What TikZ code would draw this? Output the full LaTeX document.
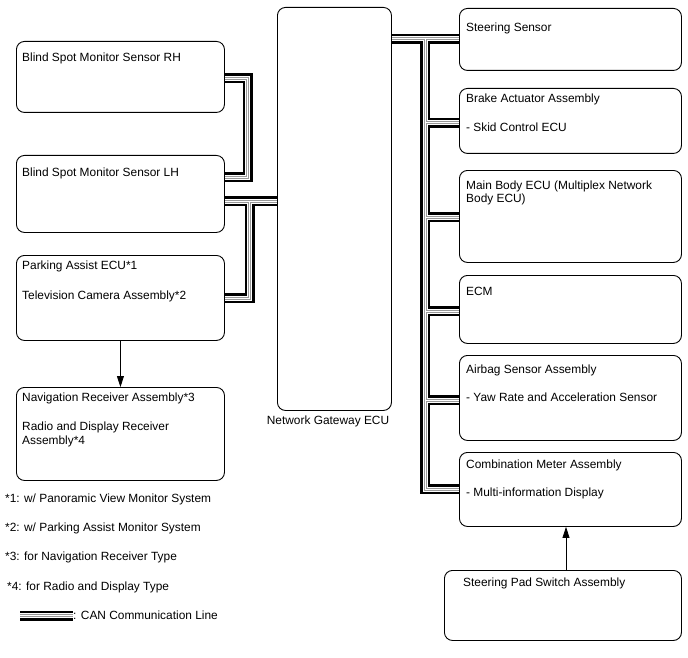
\documentclass[tikz,border=0pt]{standalone}
\usepackage{fontspec}
\setmainfont{Liberation Sans}
\usetikzlibrary{arrows.meta,backgrounds}
\newcommand\canall[1]{%
  \draw[#1] (rh.east |- yRH) -| (xLa |- yLHa) -- (lh.east |- yLHa);
  \draw[#1] (lh.east |- yGW) -- (gw.west |- yGW);
  \draw[#1] (xLb |- yGW) |- (pa.east |- yPA);
  \draw[#1] (gw.east |- ySS) -- (ss.west |- ySS);
  \draw[#1] (xR |- ySS) |- (cm.west |- yCM);
  \foreach \n/\yy in {ba/yBA, mb/yMB, ecm/yECM, ab/yAB}{\draw[#1] (xR |- \yy) -- (\n.west |- \yy);}
  \draw[#1] (legA) -- (legA -| legT.west);
}
\begin{document}
\begin{tikzpicture}[x=1pt,y=-1pt,
  box/.style={draw=black, line width=0.9pt, rounded corners=8pt, inner sep=0pt, anchor=north west},
  txt/.style={inner sep=0pt, anchor=base west, font=\fontsize{11.9}{14}\selectfont},
  arr/.style={line width=0.8pt, -{Triangle[length=11pt,width=7pt]}}]
\useasboundingbox (0,0) rectangle (688,658);
% boxes
\node[box, minimum width=208pt, minimum height=71pt] (rh) at (16,41) {};
\node[box, minimum width=208pt, minimum height=77pt] (lh) at (16,155) {};
\node[box, minimum width=208pt, minimum height=85pt] (pa) at (16,255) {};
\node[box, minimum width=208pt, minimum height=93pt] (nav) at (16,387) {};
\node[box, minimum width=114pt, minimum height=403pt] (gw) at (277,7) {};
\node[box, minimum width=222pt, minimum height=62pt] (ss) at (459,8) {};
\node[box, minimum width=222pt, minimum height=65pt] (ba) at (459,88) {};
\node[box, minimum width=222pt, minimum height=92pt] (mb) at (459,170) {};
\node[box, minimum width=222pt, minimum height=68pt] (ecm) at (459,275) {};
\node[box, minimum width=222pt, minimum height=85pt] (ab) at (459,355) {};
\node[box, minimum width=222pt, minimum height=74pt] (cm) at (459,452) {};
\node[box, minimum width=237pt, minimum height=70pt] (sp) at (444,570) {};
% texts
\node[txt] (rhT) at (22,61.3) {Blind Spot Monitor Sensor RH};
\node[txt] (lhT) at (22,176.3) {Blind Spot Monitor Sensor LH};
\node[txt] (paT1) at (22,269.3) {Parking Assist ECU*1};
\node[txt] (paT2) at (22,299.3) {Television Camera Assembly*2};
\node[txt] (navT1) at (22,401.3) {Navigation Receiver Assembly*3};
\node[txt] (navT2) at (22,430.3) {Radio and Display Receiver};
\node[txt] (navT3) at (22,444.3) {Assembly*4};
\node[txt, anchor=base] (gwT) at (328,424.3) {Network Gateway ECU};
\node[txt] (ssT) at (466,31.3) {Steering Sensor};
\node[txt] (baT1) at (466,102.3) {Brake Actuator Assembly};
\node[txt] (baT2) at (466,131.3) {- Skid Control ECU};
\node[txt] (mbT1) at (466,189.3) {Main Body ECU (Multiplex Network};
\node[txt] (mbT2) at (466,202.3) {Body ECU)};
\node[txt] (ecmT) at (466,295.3) {ECM};
\node[txt] (abT1) at (466,373.3) {Airbag Sensor Assembly};
\node[txt] (abT2) at (466,401.3) {- Yaw Rate and Acceleration Sensor};
\node[txt] (cmT1) at (466,468.3) {Combination Meter Assembly};
\node[txt] (cmT2) at (466,496.3) {- Multi-information Display};
\node[txt] (spT) at (463,586.3) {Steering Pad Switch Assembly};
\node[txt] (n1) at (5,502.3) {*1: w/ Panoramic View Monitor System};
\node[txt] (n2) at (5,531.3) {*2: w/ Parking Assist Monitor System};
\node[txt] (n3) at (5,560.3) {*3: for Navigation Receiver Type};
\node[txt] (n4) at (7,590.3) {*4: for Radio and Display Type};
\node[txt] (legT) at (73,619.3) {: CAN Communication Line};
% helper coordinates
\coordinate (yRH) at (0,78.5);
\coordinate (yLHa) at (0,177);
\coordinate (xLa) at (247.5,0);
\coordinate (yGW) at (0,201);
\coordinate (xLb) at (249.5,0);
\coordinate (yPA) at (0,298);
\coordinate (ySS) at (0,39);
\coordinate (xR) at (425,0);
\coordinate (yBA) at (0,123);
\coordinate (yMB) at (0,217);
\coordinate (yECM) at (0,311);
\coordinate (yAB) at (0,400);
\coordinate (yCM) at (0,489);
\coordinate (xArr) at (566,0);
\coordinate (legA) at (20,615.5);
% CAN lines
\begin{pgfonlayer}{background}
\canall{line width=10pt, black}
\canall{line width=5pt, white}
\canall{line width=3pt, black!40}
\canall{line width=1pt, white}
\end{pgfonlayer}
% arrows
\draw[arr] (pa.south) -- (nav.north);
\draw[arr] (sp.north -| xArr) -- (cm.south -| xArr);
\end{tikzpicture}
\end{document}
